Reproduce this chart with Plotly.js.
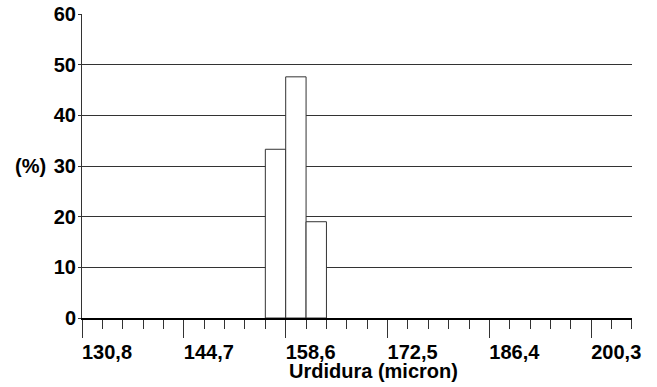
<!DOCTYPE html>
<html>
<head>
<meta charset="utf-8">
<script src="https://cdn.plot.ly/plotly-3.0.1.min.js"></script>
<style>html,body{margin:0;padding:0;background:#fff;}#chart{width:657px;height:387px;}</style>
</head>
<body>
<div id="chart"></div>
<script>
// Histogram bins (micron) and percentages
const binLower = [155.82, 158.6, 161.38];
const binUpper = [158.6, 161.38, 164.16];
const percents = [33.3, 47.6, 19.0];

// Axis ticks
const xTickValues = [130.8, 144.7, 158.6, 172.5, 186.4, 200.3];
const xTickLabels = ["130,8", "144,7", "158,6", "172,5", "186,4", "200,3"];
const yTickValues = [0, 10, 20, 30, 40, 50, 60];
const minorStep = 2.78;

const xTitle = "Urdidura (micron)";
const yTitle = "(%)";

const centers = binLower.map((lo, i) => (lo + binUpper[i]) / 2);
const widths = binLower.map((lo, i) => binUpper[i] - lo);

const font = {family: "Liberation Sans, Arial, sans-serif", size: 20, color: "#000", weight: "bold"};
const b = s => "<b>" + s + "</b>";

const trace = {
  type: "bar",
  x: centers,
  y: percents,
  width: widths,
  marker: {color: "#ffffff", line: {color: "#333333", width: 1}},
  hoverinfo: "skip"
};

const layout = {
  width: 657, height: 387,
  margin: {l: 82, r: 25, t: 14, b: 69},
  paper_bgcolor: "#fff", plot_bgcolor: "#fff",
  showlegend: false,
  font: font,
  xaxis: {
    range: [xTickValues[0], xTickValues[xTickValues.length - 1] + 2 * minorStep + 0.001],
    tickmode: "array",
    tickvals: xTickValues,
    ticktext: xTickLabels.map(b),
    ticks: "outside", ticklen: 18, tickwidth: 1, tickcolor: "#333",
    ticklabelshift: 25,
    ticklabelstandoff: -3,
    minor: {tick0: xTickValues[0], dtick: minorStep, ticks: "outside", ticklen: 9, tickwidth: 1, tickcolor: "#333", showgrid: false},
    showgrid: false, zeroline: false,
    showline: true, linecolor: "#000", linewidth: 2,
    tickfont: font, fixedrange: true
  },
  yaxis: {
    range: [0, 60],
    tickmode: "array",
    tickvals: yTickValues,
    ticktext: yTickValues.map(v => b(String(v))),
    ticks: "outside", ticklen: 3, tickcolor: "#333",
    ticklabelstandoff: -2,
    showgrid: true, gridcolor: "#333", gridwidth: 1,
    zeroline: false,
    showline: true, linecolor: "#333", linewidth: 1,
    tickfont: font, fixedrange: true
  },
  annotations: [
    {text: b(yTitle), xref: "paper", yref: "y", x: -0.126, y: 30, xanchor: "left", yanchor: "middle", showarrow: false, font: font},
    {text: b(xTitle), xref: "paper", yref: "paper", x: 0.3733, y: -0.13, xanchor: "left", yanchor: "top", showarrow: false, font: font}
  ]
};

Plotly.newPlot("chart", [trace], layout, {displayModeBar: false, staticPlot: true});
</script>
</body>
</html>
